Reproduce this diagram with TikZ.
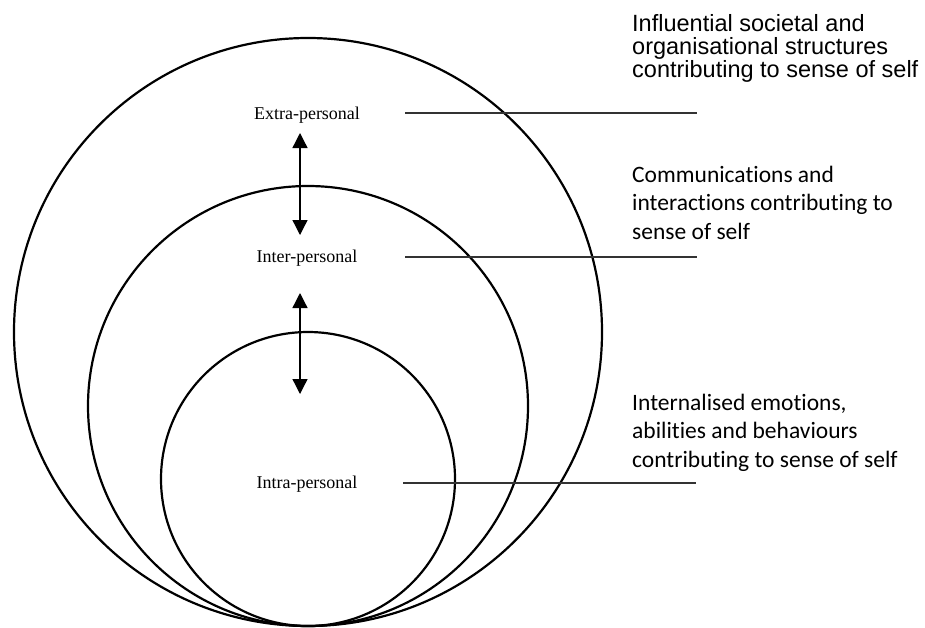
\documentclass[tikz,border=0pt]{standalone}
\usepackage{fontspec}
\setmainfont{Liberation Serif}
\newfontfamily\arialf{Liberation Sans}
\newfontfamily\calf[Ligatures=NoCommon]{Carlito}
\usetikzlibrary{arrows.meta}
\begin{document}
\begin{tikzpicture}[x=1pt,y=-1pt,
  ring/.style={circle,draw=black,line width=2.2pt,inner sep=0pt,outer sep=0pt},
  lvl/.style={font=\fontsize{18}{22}\selectfont, inner sep=0pt, anchor=base},
  lead/.style={draw=black!80,line width=1.2pt},
  dbl/.style={line width=1.3pt,{Triangle[width=15pt,length=15pt]}-{Triangle[width=15pt,length=15pt]}},
  sansA/.style={font=\arialf\fontsize{23.5}{24}\selectfont, inner sep=0pt, anchor=base west},
  sansB/.style={font=\calf\fontsize{23.5}{28}\selectfont, inner sep=0pt, anchor=base west}]
\useasboundingbox (0,0) rectangle (925,627);
% rings
\node[ring,minimum size=588pt] (extra) at (308,332) {};
\node[ring,minimum size=440pt] (inter) at (308,406) {};
\node[ring,minimum size=294pt] (intra) at (308,479) {};
% level labels
\node[lvl] (lx) at (307,119) {Extra-personal};
\node[lvl] (li) at (307,262) {Inter-personal};
\node[lvl] (ln) at (307,488) {Intra-personal};
% double arrows
\coordinate (a1t) at (300,133);
\coordinate (a1b) at (300,235);
\coordinate (a2t) at (300,293);
\coordinate (a2b) at (300,394);
\draw[dbl] (a1t) -- (a1b);
\draw[dbl] (a2t) -- (a2b);
% leader lines
\coordinate (l1s) at (405,113); \coordinate (l1e) at (697,113);
\coordinate (l2s) at (405,257); \coordinate (l2e) at (697,257);
\coordinate (l3s) at (403,483); \coordinate (l3e) at (696,483);
\draw[lead] (l1s) -- (l1e);
\draw[lead] (l2s) -- (l2e);
\draw[lead] (l3s) -- (l3e);
% descriptions
\node[sansA] (d1a) at (632,31) {Influential societal and};
\node[sansA] (d1b) at (632,54) {organisational structures};
\node[sansA] (d1c) at (632,77) {contributing to sense of self};
\node[sansB] (d2a) at (632,182) {Communications and};
\node[sansB] (d2b) at (632,210.5) {interactions contributing to};
\node[sansB] (d2c) at (632,239) {sense of self};
\node[sansB] (d3a) at (632,410) {Internalised emotions,};
\node[sansB] (d3b) at (632,438.5) {abilities and behaviours};
\node[sansB] (d3c) at (632,467) {contributing to sense of self};
\end{tikzpicture}
\end{document}
